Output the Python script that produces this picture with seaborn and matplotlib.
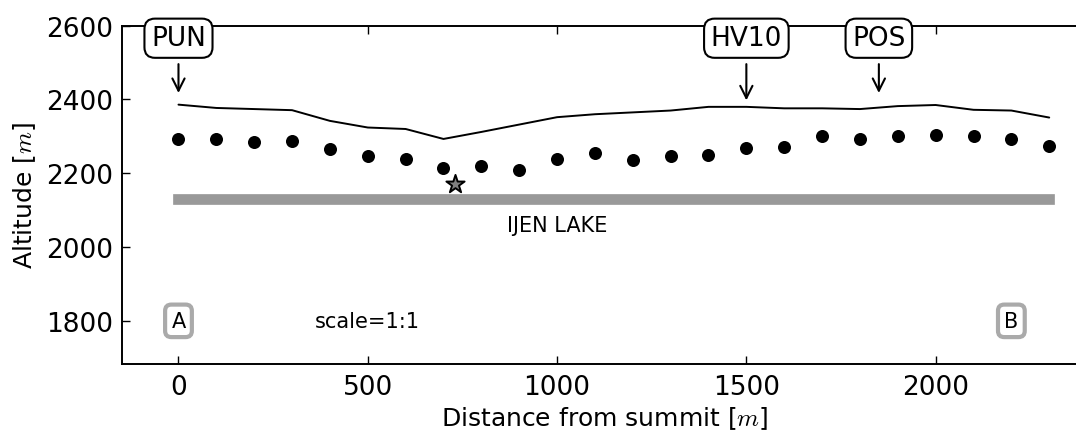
import matplotlib
matplotlib.use("Agg")
import matplotlib.pyplot as plt
import numpy as np
import pandas as pd
import seaborn as sns

# Profile along the crater, distances measured from the summit (m)
distance = [0, 100, 200, 300, 400, 500, 600, 700, 800, 900, 1000, 1100,
            1200, 1300, 1400, 1500, 1600, 1700, 1800, 1900, 2000, 2100,
            2200, 2300]
# Ground surface altitude (m)
surface = [2386, 2377, 2374, 2371, 2342, 2324, 2320, 2293, 2312, 2332, 2352,
           2360, 2365, 2370, 2380, 2380, 2376, 2376, 2374, 2382, 2385, 2372,
           2370, 2351]
# Estimated depth points (m)
estimate = [2294, 2292, 2286, 2288, 2266, 2248, 2239, 2213, 2219, 2209, 2240,
            2256, 2236, 2248, 2250, 2269, 2271, 2301, 2293, 2301, 2304, 2301,
            2293, 2275]

# Stations along the profile
station_names = ["PUN", "HV10", "POS"]
station_x = [0, 1500, 1850]
station_tip = [2410, 2390, 2410]
label_alt = 2566

# Lake surface level and extent
lake_x = [0, 2300]
lake_alt = 2130

# Source location marker
star_x = [730]
star_alt = [2170]

# Profile end markers
end_names = ["A", "B"]
end_x = [0, 2200]
end_alt = 1800

sns.set_theme(style="ticks", rc={
    "xtick.direction": "in", "ytick.direction": "in",
    "xtick.top": True, "ytick.right": True,
    "axes.linewidth": 1.4, "axes.edgecolor": "black",
    "xtick.major.size": 5.5, "ytick.major.size": 5.5,
    "xtick.major.width": 1.0, "ytick.major.width": 1.0,
    "xtick.color": "black", "ytick.color": "black",
    "xtick.labelcolor": "black", "ytick.labelcolor": "black",
    "text.color": "black", "axes.labelcolor": "black",
    "xtick.major.pad": 7, "ytick.major.pad": 6,
})
plt.rcParams["font.family"] = ["DejaVu Sans"]
plt.rcParams["mathtext.fontset"] = "cm"

fig = plt.figure(figsize=(10.76, 4.31), dpi=100)
ax = fig.add_axes([0.1131, 0.1531, 0.8972, 0.7850])

df = pd.DataFrame({"distance": distance, "surface": surface, "estimate": estimate})

sns.lineplot(data=df, x="distance", y="surface", color="black", lw=1.4, ax=ax)
sns.scatterplot(data=df, x="distance", y="estimate", color="black", s=88,
                linewidth=0, ax=ax, zorder=3)
ax.plot(lake_x, [lake_alt, lake_alt], color="#999999", lw=7.7,
        solid_capstyle="projecting", zorder=2)
sns.scatterplot(x=star_x, y=star_alt, marker="*", s=190, color="#808080",
                edgecolor="black", linewidth=1.4, ax=ax, zorder=4)

for name, sx, tip in zip(station_names, station_x, station_tip):
    ax.annotate(name, xy=(sx, tip), xytext=(sx, label_alt),
                ha="center", va="center", fontsize=19, color="black",
                bbox=dict(boxstyle="round,pad=0.25,rounding_size=0.4",
                          fc="white", ec="black", lw=1.5),
                arrowprops=dict(arrowstyle="->", color="black", lw=1.5,
                                mutation_scale=22, shrinkA=4))

for name, ex in zip(end_names, end_x):
    ax.text(ex, end_alt, name, ha="center", va="center", fontsize=15,
            color="black",
            bbox=dict(boxstyle="round,pad=0.3", fc="white", ec="#aaaaaa", lw=3))

ax.text(500, 1800, "scale=1:1", ha="center", va="center", fontsize=15,
        color="black")
ax.text(1000, 2060, "IJEN LAKE", ha="center", va="center", fontsize=15,
        color="black")

ax.set_xlim(-150, 2400)
ax.set_ylim(1683, 2600)
ax.set_xticks([0, 500, 1000, 1500, 2000])
ax.set_yticks([1800, 2000, 2200, 2400, 2600])
ax.tick_params(labelsize=19)
ax.set_xlabel("Distance from summit [$m$]", fontsize=18, labelpad=3)
ax.set_ylabel("Altitude [$m$]", fontsize=18, labelpad=6)

fig.savefig("out.png", dpi=100)
